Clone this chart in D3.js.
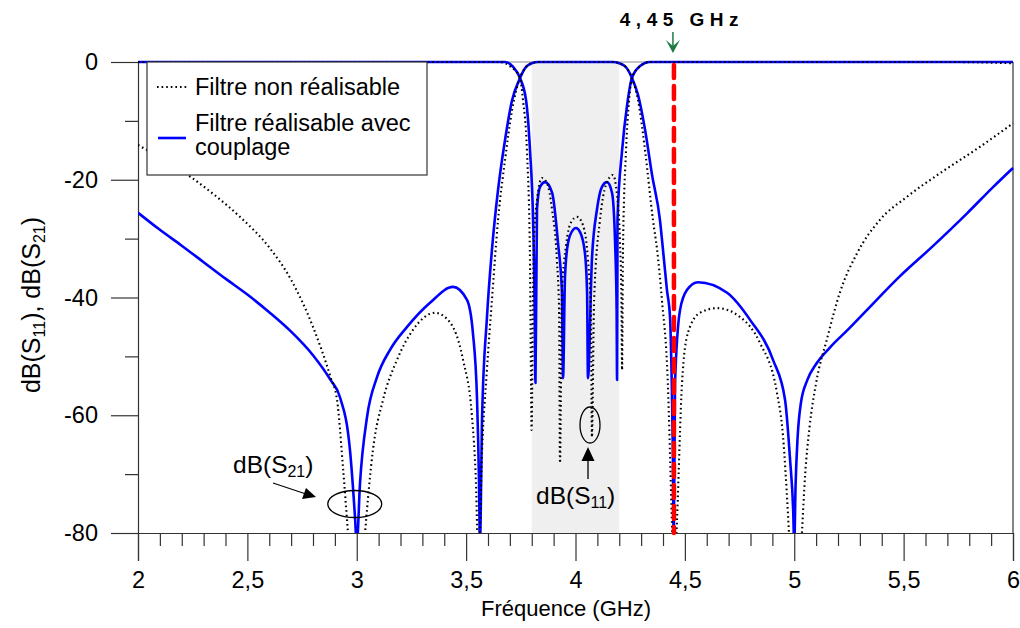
<!DOCTYPE html>
<html>
<head>
<meta charset="utf-8">
<script src="https://cdn.jsdelivr.net/npm/d3@7"></script>
<style>
  html, body { margin: 0; padding: 0; background: #ffffff; }
  svg { display: block; font-family: "Liberation Sans", Arial, sans-serif; }
</style>
</head>
<body>
<svg id="chart" width="1020" height="628"></svg>
<script>
// ---------------- data (frequency in GHz, level in dB) ----------------
const xDomain = [2, 6];
const yDomain = [0, -80];
const xMajorTicks = [2, 2.5, 3, 3.5, 4, 4.5, 5, 5.5, 6];
const yMajorTicks = [0, -20, -40, -60, -80];
const yMinorTicks = [-10, -30, -50, -70];
const passband = [3.8, 4.2];
const markerFreq = 4.45;
const markerLabel = "4,45 GHz";
const legendLabels = ["Filtre non réalisable", "Filtre réalisable avec", "couplage"];

// S21, filtre réalisable avec couplage (blue)
const s21Real = [
  [2.0,-25.6],[2.1,-28.5],[2.2,-31.2],[2.3,-34],[2.4,-36.8],[2.5,-39.5],[2.6,-42.5],
  [2.7,-45.8],[2.8,-49.8],[2.88,-54],[2.923,-56.9],[2.969,-65.9],[2.992,-77.3],[3.0,-82],
  [3.015,-71.5],[3.047,-60.3],[3.093,-53.5],[3.152,-48.9],[3.23,-45.0],[3.335,-40.9],
  [3.44,-38.2],[3.504,-40.4],[3.531,-46.0],[3.55,-57.4],[3.559,-71.5],[3.563,-82],
  [3.573,-60.3],[3.595,-43.5],[3.618,-31.9],[3.646,-21.7],[3.678,-13.2],[3.71,-6.5],
  [3.742,-3.1],[3.77,-1],[3.8,-0.2],[3.83,0],[4.17,0],[4.2,-0.2],[4.231,-0.9],
  [4.258,-2.7],[4.286,-5.6],[4.318,-11.5],[4.35,-19.2],[4.386,-26.8],[4.4,-31.9],
  [4.418,-38.7],[4.432,-43.3],[4.44,-54.5],[4.445,-65.9],[4.449,-82],[4.455,-54.5],
  [4.478,-42.1],[4.51,-38.7],[4.56,-37.4],[4.693,-39.2],[4.798,-43.8],[4.903,-50.6],
  [4.958,-57.4],[4.981,-67.6],[4.995,-76],[5.0,-82],[5.006,-72],[5.015,-64],[5.03,-58],
  [5.06,-54],[5.1,-51.3],[5.163,-48.5],[5.25,-45.3],[5.333,-42.1],[5.48,-36.5],
  [5.63,-31.4],[5.79,-25.7],[5.91,-21.2],[6.0,-18.0]
];
// S21, filtre non réalisable (dotted)
const s21Ideal = [
  [2.0,-14.1],[2.1,-16.2],[2.24,-19.5],[2.35,-22.6],[2.466,-26.3],[2.6,-31.5],[2.7,-37],
  [2.8,-45],[2.88,-53.5],[2.91,-57.4],[2.937,-68.8],[2.96,-80],[3.0,-100],[3.038,-80],
  [3.074,-65.9],[3.12,-57.4],[3.184,-50.6],[3.257,-45.5],[3.358,-42.6],[3.426,-44.2],
  [3.486,-50.6],[3.527,-60.3],[3.545,-71.5],[3.556,-85],[3.573,-65.9],[3.595,-52.3],
  [3.618,-40.4],[3.646,-26.8],[3.678,-16.6],[3.71,-8.2],[3.742,-3.1],[3.77,-1],
  [3.8,-0.2],[3.83,0],[4.17,0],[4.2,-0.2],[4.231,-0.9],[4.258,-2.7],[4.286,-6.5],
  [4.318,-15],[4.354,-26.8],[4.373,-31.9],[4.395,-40.4],[4.422,-54.5],[4.44,-77.3],
  [4.45,-90],[4.464,-77.8],[4.487,-54.5],[4.514,-46],[4.569,-42.6],[4.647,-41.8],
  [4.752,-43.3],[4.843,-47.7],[4.921,-56.2],[4.949,-63.7],[4.971,-76.6],[4.976,-80],
  [5.005,-100],[5.035,-80],[5.05,-70],[5.07,-62],[5.1,-54.5],[5.15,-47],[5.21,-39],
  [5.287,-32.5],[5.392,-26.8],[5.515,-22.9],[5.666,-18.9],[5.849,-14.4],[6.0,-10.4]
];
// S11, filtre réalisable avec couplage (blue)
const s11Real = [
  [2.0,0],[3.678,0],[3.714,-0.8],[3.746,-2.7],[3.774,-6.5],[3.792,-15],[3.806,-26.8],
  [3.813,-40.4],[3.817,-54.5],[3.824,-25],[3.838,-21.2],[3.861,-20.4],[3.893,-22.2],
  [3.92,-30.7],[3.938,-39.2],[3.943,-53.7],[3.952,-36.5],[3.966,-30.7],[3.989,-28.5],
  [4.002,-28.2],[4.021,-28.9],[4.043,-32.4],[4.053,-39.2],[4.057,-53.7],[4.075,-33.6],
  [4.098,-25.1],[4.121,-21.2],[4.144,-20.4],[4.167,-22.2],[4.181,-30.7],[4.188,-42.1],
  [4.19,-54],[4.192,-26.8],[4.213,-15],[4.236,-7.3],[4.258,-2.7],[4.295,-0.7],[4.34,0],
  [6.0,0]
];
// S11, filtre non réalisable (dotted)
const s11Ideal = [
  [2.0,0],[3.655,0],[3.70,-0.7],[3.746,-2.7],[3.76,-6.5],[3.778,-15],[3.792,-33.6],
  [3.797,-56],[3.799,-62.5],[3.806,-39.2],[3.81,-30.7],[3.824,-23.4],[3.847,-19.7],
  [3.87,-20.6],[3.893,-25.1],[3.915,-33.6],[3.925,-42.1],[3.929,-68.1],[3.938,-39.2],
  [3.957,-31.1],[3.98,-27.2],[4.007,-26.3],[4.034,-27.7],[4.057,-33.6],[4.071,-43.8],
  [4.075,-63.7],[4.085,-40.4],[4.112,-26.8],[4.139,-20.9],[4.171,-19.2],[4.19,-22.6],
  [4.203,-30.2],[4.21,-40.4],[4.213,-52.3],[4.217,-31.9],[4.231,-15],[4.245,-6.5],
  [4.258,-2.7],[4.295,-0.7],[4.34,0],[5.7,0],[6.0,-0.2]
];

// ---------------- drawing ----------------
const svg = d3.select("#chart");
const L = 138, R = 1013, T = 62, B = 533;
const x = d3.scaleLinear().domain(xDomain).range([L, R]);
const y = d3.scaleLinear().domain(yDomain).range([T, B]);
const fmt = d => String(d).replace(".", ",");
const axisColor = "#333";

svg.append("defs").append("clipPath").attr("id", "plotClip")
  .append("rect").attr("x", L).attr("y", T - 6).attr("width", R - L + 2).attr("height", B - T + 6);

// pass band shading
svg.append("rect")
  .attr("x", x(passband[0])).attr("y", T)
  .attr("width", x(passband[1]) - x(passband[0])).attr("height", B - T)
  .attr("fill", "#efefef");

// top frame line (light) and right frame line
svg.append("line").attr("x1", L).attr("x2", R).attr("y1", T).attr("y2", T)
  .attr("stroke", "#888").attr("stroke-width", 1);
svg.append("line").attr("x1", R).attr("x2", R).attr("y1", T).attr("y2", B)
  .attr("stroke", axisColor).attr("stroke-width", 1.2);

// y axis
svg.append("g").attr("transform", `translate(${L},0)`)
  .call(d3.axisLeft(y).tickValues(yMajorTicks).tickSize(27).tickPadding(13).tickFormat(fmt));
svg.append("g").attr("transform", `translate(${L},0)`)
  .call(d3.axisLeft(y).tickValues(yMinorTicks).tickSize(13).tickFormat(""))
  .select(".domain").remove();

// x axis
const xMinor = d3.range(20, 61).map(v => v / 10).filter(v => Math.abs(v * 2 - Math.round(v * 2)) > 1e-6);
svg.append("g").attr("transform", `translate(0,${B})`)
  .call(d3.axisBottom(x).tickValues(xMajorTicks).tickSize(28).tickPadding(10).tickFormat(fmt));
svg.append("g").attr("transform", `translate(0,${B})`)
  .call(d3.axisBottom(x).tickValues(xMinor).tickSize(13).tickFormat(""))
  .select(".domain").remove();

svg.selectAll(".domain").attr("stroke", axisColor).attr("stroke-width", 1.2);
svg.selectAll(".tick line").attr("stroke", axisColor).attr("stroke-width", 1.2);
svg.selectAll(".tick text").attr("font-size", 23.5).attr("fill", "#000")
  .attr("font-family", '"Liberation Sans", Arial, sans-serif');

// curves
const plot = svg.append("g").attr("clip-path", "url(#plotClip)");
const line = d3.line().x(d => x(d[0])).y(d => y(d[1])).curve(d3.curveMonotoneX);

const dotted = { stroke: "#000", width: 2.1, dash: "1.6,3" };
const blue = { stroke: "#0000ff", width: 2.6 };

[s21Real, s11Real].forEach(s => {
  plot.append("path").datum(s).attr("d", line).attr("fill", "none")
    .attr("stroke", blue.stroke).attr("stroke-width", blue.width)
    .attr("stroke-linejoin", "round");
});
[s21Ideal, s11Ideal].forEach(s => {
  plot.append("path").datum(s).attr("d", line).attr("fill", "none")
    .attr("stroke", dotted.stroke).attr("stroke-width", dotted.width)
    .attr("stroke-dasharray", dotted.dash);
});

// red dashed marker
svg.append("line")
  .attr("x1", x(markerFreq)).attr("x2", x(markerFreq)).attr("y1", T + 3).attr("y2", B)
  .attr("stroke", "#ff0000").attr("stroke-width", 4.5)
  .attr("stroke-dasharray", "13,8").attr("stroke-linecap", "round");

// marker label and green arrow
svg.append("text").attr("x", x(markerFreq) + 8).attr("y", 26)
  .attr("text-anchor", "middle").attr("font-size", 19).attr("font-weight", "bold")
  .attr("letter-spacing", 5.5).attr("font-family", '"Liberation Sans", Arial, sans-serif')
  .text(markerLabel);
const gx = x(markerFreq) - 1;
svg.append("line").attr("x1", gx).attr("x2", gx).attr("y1", 32).attr("y2", 51)
  .attr("stroke", "#1e7b45").attr("stroke-width", 1.5);
svg.append("path").attr("d", `M${gx - 7},${40} L${gx},${53} L${gx + 7},${40} L${gx},${46} Z`)
  .attr("fill", "#1e7b45");

// legend
const lg = svg.append("g");
lg.append("rect").attr("x", 147).attr("y", 62).attr("width", 280).attr("height", 113)
  .attr("fill", "#fff").attr("stroke", "#333").attr("stroke-width", 1.2);
lg.append("line").attr("x1", 157).attr("x2", 188).attr("y1", 87).attr("y2", 87)
  .attr("stroke", "#000").attr("stroke-width", dotted.width).attr("stroke-dasharray", dotted.dash);
lg.append("line").attr("x1", 158).attr("x2", 186).attr("y1", 138).attr("y2", 138)
  .attr("stroke", blue.stroke).attr("stroke-width", blue.width);
[[95, legendLabels[0]], [131, legendLabels[1]], [155, legendLabels[2]]].forEach(([yy, t]) => {
  lg.append("text").attr("x", 195).attr("y", yy).attr("font-size", 23.5).attr("fill", "#000").text(t);
});

// axis titles
svg.append("text").attr("x", 566).attr("y", 616).attr("text-anchor", "middle")
  .attr("font-size", 22).text("Fréquence (GHz)");

function sText(g, px, py, size, angle) {
  return g.append("text").attr("font-size", size).attr("fill", "#000")
    .attr("transform", `translate(${px},${py}) rotate(${angle || 0})`);
}
const yt = sText(svg, 40, 305, 25, -90).attr("text-anchor", "middle");
yt.append("tspan").text("dB(S");
yt.append("tspan").attr("font-size", 16).attr("dy", 5).text("11");
yt.append("tspan").attr("dy", -5).text("), dB(S");
yt.append("tspan").attr("font-size", 16).attr("dy", 5).text("21");
yt.append("tspan").attr("dy", -5).text(")");

// annotations
const ann = svg.append("g");
const a1 = sText(ann, 233, 473, 24.5);
a1.append("tspan").text("dB(S");
a1.append("tspan").attr("font-size", 16).attr("dy", 4).text("21");
a1.append("tspan").attr("dy", -4).text(")");
ann.append("ellipse").attr("cx", x(3.0) - 2).attr("cy", 504).attr("rx", 27).attr("ry", 13.5)
  .attr("fill", "none").attr("stroke", "#000").attr("stroke-width", 1.3);
ann.append("line").attr("x1", 273).attr("y1", 483).attr("x2", 306).attr("y2", 494)
  .attr("stroke", "#000").attr("stroke-width", 1.3);
ann.append("path").attr("d", "M316,497 L302,499 L306,488 Z").attr("fill", "#000");

const a2 = sText(ann, 536, 504, 24.5);
a2.append("tspan").text("dB(S");
a2.append("tspan").attr("font-size", 16).attr("dy", 4).text("11");
a2.append("tspan").attr("dy", -4).text(")");
ann.append("ellipse").attr("cx", 590).attr("cy", 425).attr("rx", 10).attr("ry", 18)
  .attr("fill", "none").attr("stroke", "#000").attr("stroke-width", 1.3);
ann.append("line").attr("x1", 588).attr("y1", 479).attr("x2", 588).attr("y2", 458)
  .attr("stroke", "#000").attr("stroke-width", 1.3);
ann.append("path").attr("d", "M588,447 L594.5,461 L581.5,461 Z").attr("fill", "#000");
</script>
</body>
</html>
